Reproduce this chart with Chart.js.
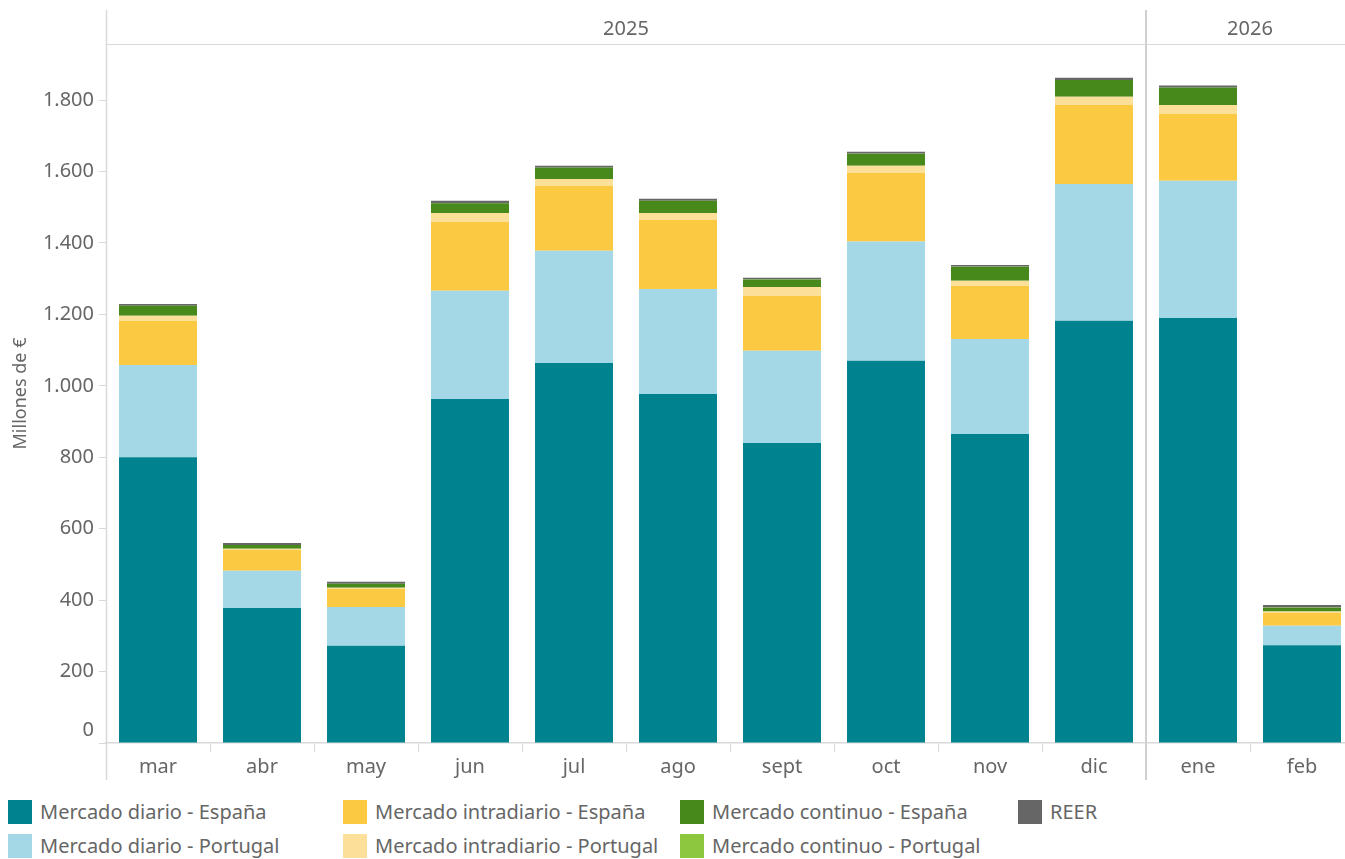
<!DOCTYPE html>
<html lang="es">
<head>
    <meta charset="UTF-8">
    <title>Mercados - Millones de €</title>
    <script src="https://cdn.jsdelivr.net/npm/chart.js"></script>
    <style>
        body {
            margin: 0;
            background: #fff;
            overflow: hidden;
            font-family: "Noto Sans", sans-serif;
        }
        .wrap {
            position: relative;
            width: 1354px;
            height: 785px;
        }
        .legend {
            position: absolute;
            left: 0;
            top: 799px;
            width: 1345px;
            height: 60px;
        }
        .item {
            position: absolute;
            height: 26px;
            line-height: 26px;
            font-size: 20px;
            color: #666;
            white-space: nowrap;
        }
        .item span {
            position: absolute;
            left: 0;
            top: 1px;
            width: 24px;
            height: 24px;
        }
        .item b {
            font-weight: normal;
            position: absolute;
            left: 32px;
            top: 0;
        }
    </style>
</head>
<body>

<div class="wrap">
    <canvas id="chart"></canvas>
</div>
<div class="legend" id="legend"></div>

<script>
    const months = ["mar", "abr", "may", "jun", "jul", "ago", "sept", "oct", "nov", "dic", "ene", "feb"];

    const years = ["2025", "2026"];
    const yearFirst = [0, 10];   // first month index of each year
    const yearLast = [9, 11];

    // millones de €
    const diarioES = [800, 378, 272, 963, 1064, 977, 840, 1070, 865, 1182, 1190, 274];
    const diarioPT = [258, 104, 109, 303, 314, 294, 258, 334, 266, 383, 384, 54];
    const intraES  = [124, 59, 51, 193, 182, 193, 154, 192, 149, 221, 187, 36];
    const intraPT  = [14, 3, 3, 25, 19, 20, 25, 20, 14, 23, 25, 4];
    const contES   = [28, 10, 11, 27, 32, 34, 21, 33, 39, 47, 49, 11];
    const contPT   = [0.4, 0.2, 0.2, 0.4, 0.4, 0.4, 0.3, 0.4, 0.3, 0.5, 0.5, 0.2];
    const reer     = [5, 6, 5, 7, 5, 5, 4, 6, 5, 6, 5, 7];

    const yTicks = [0, 200, 400, 600, 800, 1000, 1200, 1400, 1600, 1800];

    const series = [
        { label: "Mercado diario - España", data: diarioES, color: "#00838f", col: 0, row: 0 },
        { label: "Mercado diario - Portugal", data: diarioPT, color: "#a5d8e6", col: 0, row: 1 },
        { label: "Mercado intradiario - España", data: intraES, color: "#fcc942", col: 1, row: 0 },
        { label: "Mercado intradiario - Portugal", data: intraPT, color: "#fce09a", col: 1, row: 1 },
        { label: "Mercado continuo - España", data: contES, color: "#478a1b", col: 2, row: 0 },
        { label: "Mercado continuo - Portugal", data: contPT, color: "#8dc63f", col: 2, row: 1 },
        { label: "REER", data: reer, color: "#666666", col: 3, row: 0 }
    ];

    const grey = "#666";
    const lineCol = "#d9d9d9";
    const fontFam = "Noto Sans";

    function fmt(v) {
        return v.toString().replace(/\B(?=(\d{3})+(?!\d))/g, ".");
    }

    // year header, separators, long axis lines and the raised "0" label
    const yearHeader = {
        id: "yearHeader",
        afterDraw(chart) {
            const ctx = chart.ctx;
            const x = chart.scales.x;
            const y = chart.scales.y;
            const a = chart.chartArea;
            const half = (x.getPixelForValue(1) - x.getPixelForValue(0)) / 2;
            ctx.save();
            ctx.strokeStyle = lineCol;
            ctx.lineWidth = 1;
            ctx.beginPath();
            ctx.moveTo(a.left, a.top + 0.5);
            ctx.lineTo(a.right, a.top + 0.5);
            ctx.stroke();

            ctx.lineWidth = 1.5;
            ctx.beginPath();
            ctx.moveTo(a.left + 0.5, 10);
            ctx.lineTo(a.left + 0.5, 780);
            ctx.stroke();

            ctx.font = "20px '" + fontFam + "'";
            ctx.fillStyle = grey;
            ctx.textAlign = "center";
            ctx.textBaseline = "middle";
            years.forEach((yr, i) => {
                const l = x.getPixelForValue(yearFirst[i]) - half;
                const r = x.getPixelForValue(yearLast[i]) + half;
                if (i > 0) {
                    ctx.strokeStyle = "#d0d0d0";
                    ctx.lineWidth = 2;
                    ctx.beginPath();
                    ctx.moveTo(l, 10);
                    ctx.lineTo(l, 780);
                    ctx.stroke();
                }
                ctx.fillText(yr, (l + r) / 2, 29);
            });

            ctx.textAlign = "right";
            ctx.fillText(fmt(yTicks[0]), a.left - 12, y.getPixelForValue(yTicks[0]) - 13);
            ctx.restore();
        }
    };

    const ctx = document.getElementById("chart").getContext("2d");
    new Chart(ctx, {
        type: "bar",
        data: {
            labels: months,
            datasets: series.map(s => ({
                label: s.label,
                data: s.data,
                backgroundColor: s.color,
                borderWidth: 0,
                categoryPercentage: 1.0,
                barPercentage: 0.75
            }))
        },
        options: {
            responsive: true,
            maintainAspectRatio: false,
            animation: false,
            layout: { padding: { top: 44, left: 0, right: 0, bottom: 0 } },
            plugins: {
                legend: { display: false },
                tooltip: { enabled: false }
            },
            scales: {
                x: {
                    stacked: true,
                    afterFit: s => { s.height = 42; },
                    grid: {
                        offset: true,
                        drawOnChartArea: false,
                        drawTicks: true,
                        tickLength: 9,
                        color: lineCol
                    },
                    border: { display: true, color: lineCol, width: 1.5 },
                    ticks: {
                        color: grey,
                        font: { family: fontFam, size: 20 },
                        padding: 3
                    }
                },
                y: {
                    stacked: true,
                    min: 0,
                    max: 1957,
                    afterFit: s => { s.width = 106; },
                    afterBuildTicks: s => { s.ticks = yTicks.map(v => ({ value: v })); },
                    grid: {
                        drawOnChartArea: false,
                        drawTicks: true,
                        tickLength: 7,
                        color: lineCol
                    },
                    border: { display: false },
                    ticks: {
                        color: grey,
                        font: { family: fontFam, size: 20 },
                        padding: 5,
                        callback: v => (v === 0 ? "" : fmt(v))
                    },
                    title: {
                        display: true,
                        text: "Millones de €",
                        color: grey,
                        font: { family: fontFam, size: 18 },
                        padding: { top: 10, bottom: 0 }
                    }
                }
            }
        },
        plugins: [yearHeader]
    });

    // legend laid out in columns like the original
    const colX = [8, 343, 680, 1018];
    const rowY = [0, 34];
    const legend = document.getElementById("legend");
    series.forEach(s => {
        const d = document.createElement("div");
        d.className = "item";
        d.style.left = colX[s.col] + "px";
        d.style.top = rowY[s.row] + "px";
        d.innerHTML = '<span style="background:' + s.color + '"></span><b>' + s.label + '</b>';
        legend.appendChild(d);
    });
</script>

</body>
</html>
